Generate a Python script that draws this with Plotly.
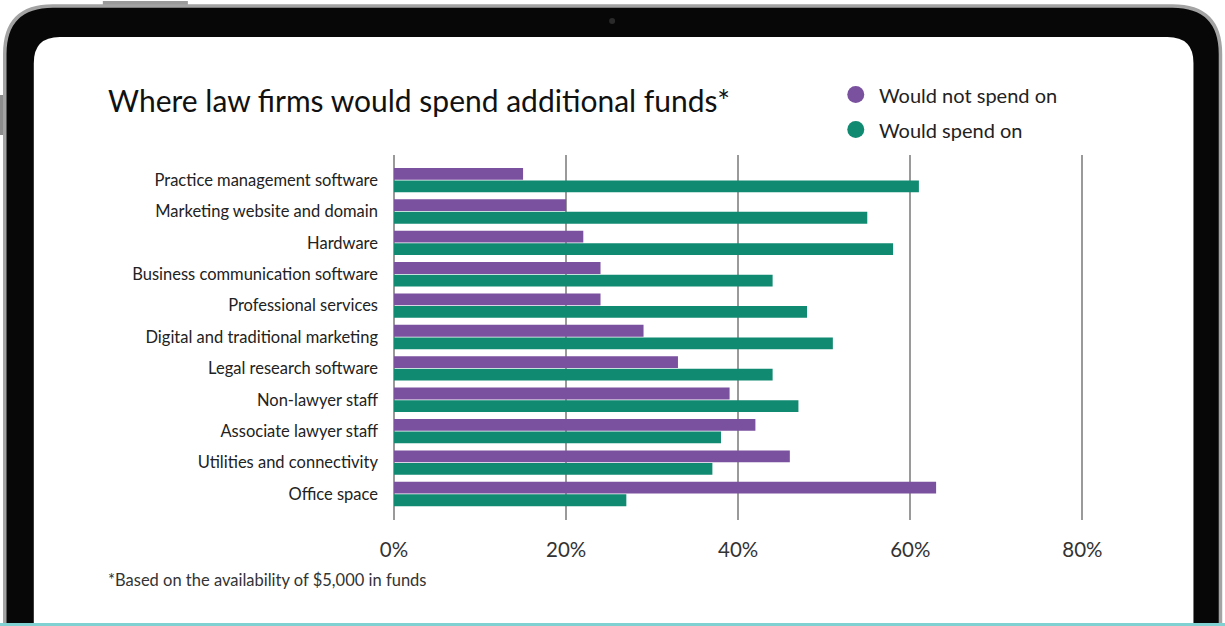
import plotly.graph_objects as go

categories = [
    "Practice management software",
    "Marketing website and domain",
    "Hardware",
    "Business communication software",
    "Professional services",
    "Digital and traditional marketing",
    "Legal research software",
    "Non-lawyer staff",
    "Associate lawyer staff",
    "Utilities and connectivity",
    "Office space",
]
would_not_spend = [15, 20, 22, 24, 24, 29, 33, 39, 42, 46, 63]
would_spend = [61, 55, 58, 44, 48, 51, 44, 47, 38, 37, 27]
series_names = ["Would not spend on", "Would spend on"]
x_ticks = [0, 20, 40, 60, 80]
x_tick_labels = ["0%", "20%", "40%", "60%", "80%"]

PURPLE = "#7a519e"
GREEN = "#118a72"
FONT = "Lato"

# figure geometry (pixels)
FW, FH = 1225, 626
X_MAX = 81.0
ML, MT, MB = 394, 155, FH - 520
PW = (1082 - ML) * X_MAX / 80.0
MR = FW - ML - PW
PH = FH - MT - MB


def px(x):
    return (x - ML) / PW


def py(y):
    return (FH - MB - y) / PH


def rrect(x0, y0, x1, y1, r):
    pts = [
        ("M", [(x0 + r, y0)]),
        ("L", [(x1 - r, y0)]),
        ("Q", [(x1, y0), (x1, y0 + r)]),
        ("L", [(x1, y1)]),
        ("L", [(x0, y1)]),
        ("L", [(x0, y0 + r)]),
        ("Q", [(x0, y0), (x0 + r, y0)]),
    ]
    s = ""
    for cmd, coords in pts:
        s += cmd + " " + " ".join(f"{px(a):.5f},{py(b):.5f}" for a, b in coords) + " "
    return s + "Z"


fig = go.Figure()
fig.add_trace(go.Bar(
    y=categories, x=would_not_spend, name=series_names[0], orientation="h",
    marker=dict(color=PURPLE, line=dict(width=0)), showlegend=False,
))
fig.add_trace(go.Bar(
    y=categories, x=would_spend, name=series_names[1], orientation="h",
    marker=dict(color=GREEN, line=dict(width=0)), showlegend=False,
))

shapes = [
    # side button
    dict(type="rect", xref="paper", yref="paper", x0=px(0), x1=px(5), y0=py(95), y1=py(135),
         fillcolor="#8c8c8c", line=dict(width=0), layer="below"),
    # top button
    dict(type="rect", xref="paper", yref="paper", x0=px(103), x1=px(188), y0=py(1), y1=py(8),
         fillcolor="#9a9a9a", line=dict(width=0), layer="below"),
    # tablet body
    dict(type="path", xref="paper", yref="paper", path=rrect(5, 6, 1220, 680, 48),
         fillcolor="#070707", line=dict(color="#a3a3a3", width=3.5), layer="below"),
    # screen
    dict(type="path", xref="paper", yref="paper", path=rrect(34, 37, 1193, 680, 26),
         fillcolor="#ffffff", line=dict(width=0), layer="below"),
    # camera
    dict(type="circle", xref="paper", yref="paper", x0=px(609), x1=px(615), y0=py(18), y1=py(24),
         fillcolor="#2a2a2a", line=dict(width=0), layer="below"),
    # bottom cyan edge
    dict(type="rect", xref="paper", yref="paper", x0=px(0), x1=px(1225), y0=py(623), y1=py(627),
         fillcolor="#80d2d2", line=dict(width=0), layer="above"),
    # legend markers
    dict(type="circle", xref="paper", yref="paper", x0=px(847), x1=px(864), y0=py(86), y1=py(103),
         fillcolor=PURPLE, line=dict(width=0), layer="above"),
    dict(type="circle", xref="paper", yref="paper", x0=px(847), x1=px(864), y0=py(121), y1=py(138),
         fillcolor=GREEN, line=dict(width=0), layer="above"),
]

annotations = [
    dict(text="Where law firms would spend additional funds*", xref="paper", yref="paper",
         x=px(106), y=py(100), xanchor="left", yanchor="middle", showarrow=False,
         font=dict(family=FONT, size=30, color="#111111")),
    dict(text=series_names[0], xref="paper", yref="paper", x=px(877), y=py(95),
         xanchor="left", yanchor="middle", showarrow=False,
         font=dict(family=FONT, size=20, color="#222222")),
    dict(text=series_names[1], xref="paper", yref="paper", x=px(877), y=py(130),
         xanchor="left", yanchor="middle", showarrow=False,
         font=dict(family=FONT, size=20, color="#222222")),
    dict(text="*Based on the availability of $5,000 in funds", xref="paper", yref="paper",
         x=px(106), y=py(580), xanchor="left", yanchor="middle", showarrow=False,
         font=dict(family=FONT, size=16.5, color="#333333")),
]

fig.update_layout(
    width=FW, height=FH,
    margin=dict(l=ML, r=MR, t=MT, b=MB, pad=0),
    paper_bgcolor="#ffffff",
    plot_bgcolor="rgba(0,0,0,0)",
    barmode="group", bargap=0.2, bargroupgap=0.06,
    shapes=shapes, annotations=annotations,
    font=dict(family=FONT, color="#222222"),
    xaxis=dict(
        range=[0, X_MAX], tickvals=x_ticks, ticktext=x_tick_labels,
        showgrid=True, gridcolor="#9a9a9a", gridwidth=2,
        zeroline=True, zerolinecolor="#9a9a9a", zerolinewidth=2,
        showline=False, ticks="", ticklabelstandoff=15,
        tickfont=dict(family=FONT, size=20.5, color="#333333"),
        fixedrange=True,
    ),
    yaxis=dict(
        categoryorder="array", categoryarray=categories,
        range=[10.83, -0.8], showgrid=False, zeroline=False, showline=False,
        ticks="", ticklabelstandoff=15,
        tickfont=dict(family=FONT, size=16.5, color="#222222"),
        fixedrange=True,
    ),
    showlegend=False,
)

fig.write_html(
    "out.html",
    config={"displayModeBar": False, "staticPlot": True},
    post_script="document.body.style.margin='0';document.body.style.overflow='hidden';",
)
